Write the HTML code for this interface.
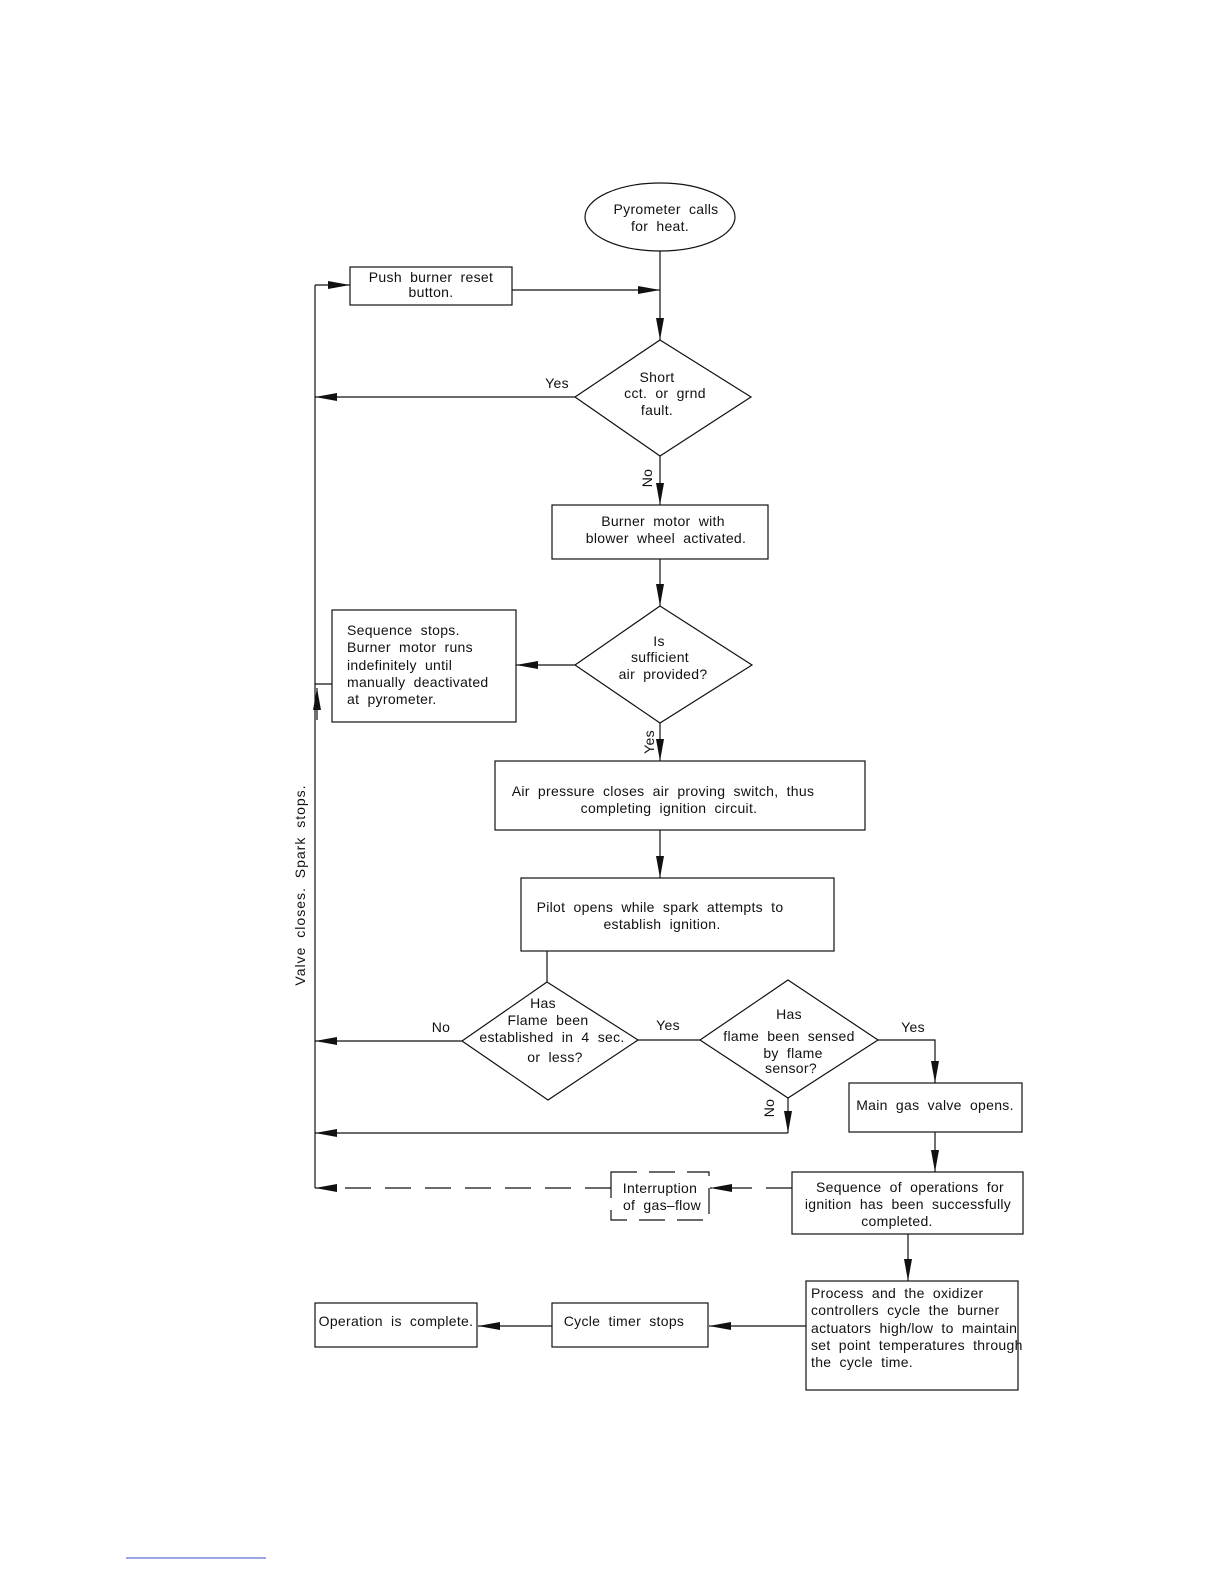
<!DOCTYPE html>
<html><head><meta charset="utf-8"><style>
html,body{margin:0;padding:0;background:#fff;}
svg{display:block;}
text{font-family:"Liberation Sans",sans-serif;font-size:14px;fill:#111;word-spacing:4px;letter-spacing:0.3px;}
</style></head><body>
<svg width="1224" height="1584" viewBox="0 0 1224 1584" xmlns="http://www.w3.org/2000/svg">
<defs>
<marker id="a" markerWidth="22" markerHeight="10" refX="22" refY="5" orient="auto" markerUnits="userSpaceOnUse">
<path d="M0,1 L22,5 L0,9 Z" fill="#111"/></marker>
</defs>
<g stroke="#111" stroke-width="1.2" fill="none">
<ellipse cx="660" cy="217" rx="75" ry="34"/>
<rect x="350" y="267" width="162" height="38"/>
<line x1="512" y1="290" x2="660" y2="290" marker-end="url(#a)"/>
<line x1="660" y1="251" x2="660" y2="340" marker-end="url(#a)"/>
<polygon points="660,340 751,397 660,456 575,397"/>
<line x1="575" y1="397" x2="315" y2="397" marker-end="url(#a)"/>
<line x1="315" y1="1188" x2="315" y2="285"/>
<line x1="315" y1="285" x2="350" y2="285" marker-end="url(#a)"/>
<line x1="660" y1="456" x2="660" y2="505" marker-end="url(#a)"/>
<rect x="552" y="505" width="216" height="54"/>
<line x1="660" y1="559" x2="660" y2="606" marker-end="url(#a)"/>
<polygon points="660,606 752,665 660,723 575,665"/>
<line x1="575" y1="665" x2="516" y2="665" marker-end="url(#a)"/>
<rect x="332" y="610" width="184" height="112"/>
<line x1="332" y1="684" x2="315" y2="684"/>
<line x1="317" y1="720" x2="317" y2="688" marker-end="url(#a)"/>
<line x1="660" y1="723" x2="660" y2="761" marker-end="url(#a)"/>
<rect x="495" y="761" width="370" height="69"/>
<line x1="660" y1="830" x2="660" y2="878" marker-end="url(#a)"/>
<rect x="521" y="878" width="313" height="73"/>
<line x1="547" y1="951" x2="547" y2="982"/>
<polygon points="547,982 638,1040 548,1100 462,1041"/>
<line x1="462" y1="1041" x2="315" y2="1041" marker-end="url(#a)"/>
<line x1="638" y1="1040" x2="700" y2="1040"/>
<polygon points="788,980 878,1040 788,1098 700,1040"/>
<polyline points="878,1040 935,1040 935,1083" marker-end="url(#a)"/>
<line x1="788" y1="1098" x2="788" y2="1133" marker-end="url(#a)"/>
<line x1="788" y1="1133" x2="315" y2="1133" marker-end="url(#a)"/>
<rect x="849" y="1083" width="173" height="49"/>
<line x1="935" y1="1132" x2="935" y2="1172" marker-end="url(#a)"/>
<rect x="792" y="1172" width="231" height="62"/>
<line x1="792" y1="1188" x2="710" y2="1188" stroke-dasharray="26,14" marker-end="url(#a)"/>
<rect x="611" y="1172" width="98" height="48" stroke-dasharray="26,12"/>
<line x1="611" y1="1188" x2="315" y2="1188" stroke-dasharray="26,14" marker-end="url(#a)"/>
<line x1="908" y1="1234" x2="908" y2="1281" marker-end="url(#a)"/>
<rect x="806" y="1281" width="212" height="109"/>
<line x1="806" y1="1326" x2="709" y2="1326" marker-end="url(#a)"/>
<rect x="552" y="1303" width="156" height="44"/>
<line x1="552" y1="1326" x2="478" y2="1326" marker-end="url(#a)"/>
<rect x="315" y="1303" width="162" height="44"/>
</g>
<line x1="126" y1="1558" x2="266" y2="1558" stroke="#3050c0" stroke-width="1"/>
<g text-anchor="middle">
<text x="666" y="214">Pyrometer calls</text>
<text x="660" y="231">for heat.</text>
<text x="431" y="282">Push burner reset</text>
<text x="431" y="297">button.</text>
<text x="557" y="388">Yes</text>
<text x="657" y="382">Short</text>
<text x="665" y="398">cct. or grnd</text>
<text x="657" y="415">fault.</text>
<text x="663" y="526">Burner motor with</text>
<text x="666" y="543">blower wheel activated.</text>
<text x="659" y="646">Is</text>
<text x="660" y="662">sufficient</text>
<text x="663" y="679">air provided?</text>
<text x="663" y="796">Air pressure closes air proving switch, thus</text>
<text x="669" y="813">completing ignition circuit.</text>
<text x="660" y="912">Pilot opens while spark attempts to</text>
<text x="662" y="929">establish ignition.</text>
<text x="543" y="1008">Has</text>
<text x="548" y="1025">Flame been</text>
<text x="552" y="1042">established in 4 sec.</text>
<text x="555" y="1062">or less?</text>
<text x="441" y="1032">No</text>
<text x="668" y="1030">Yes</text>
<text x="789" y="1019">Has</text>
<text x="789" y="1041">flame been sensed</text>
<text x="793" y="1058">by flame</text>
<text x="791" y="1073">sensor?</text>
<text x="913" y="1032">Yes</text>
<text x="935" y="1110">Main gas valve opens.</text>
<text x="910" y="1192">Sequence of operations for</text>
<text x="908" y="1209">ignition has been successfully</text>
<text x="897" y="1226">completed.</text>
<text x="660" y="1193">Interruption</text>
<text x="662" y="1210">of gas–flow</text>
<text x="624" y="1326">Cycle timer stops</text>
<text x="396" y="1326">Operation is complete.</text>
</g>
<g>
<text x="347" y="635">Sequence stops.</text>
<text x="347" y="652">Burner motor runs</text>
<text x="347" y="670">indefinitely until</text>
<text x="347" y="687">manually deactivated</text>
<text x="347" y="704">at pyrometer.</text>
</g>
<g style="font-size:13px;letter-spacing:-0.3px;word-spacing:2px">
<text x="811" y="1298">Process and the oxidizer</text>
<text x="811" y="1315">controllers cycle the burner</text>
<text x="811" y="1333">actuators high/low to maintain</text>
<text x="811" y="1350">set point temperatures through</text>
<text x="811" y="1367">the cycle time.</text>
</g>
<text transform="translate(652,478) rotate(-90)" text-anchor="middle">No</text>
<text transform="translate(654,742) rotate(-90)" text-anchor="middle">Yes</text>
<text transform="translate(774,1108) rotate(-90)" text-anchor="middle">No</text>
<text transform="translate(305,885) rotate(-90)" text-anchor="middle" style="letter-spacing:1px">Valve closes. Spark stops.</text>
</svg>
</body></html>
